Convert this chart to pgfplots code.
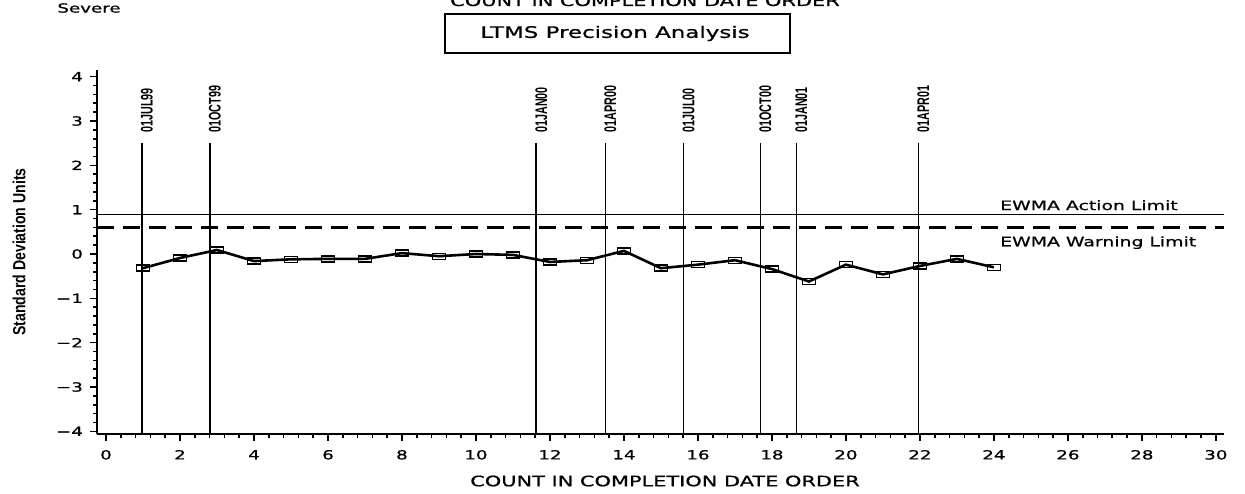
\documentclass[border=0pt]{standalone}
\usepackage{pgfplots}
\pgfplotsset{compat=1.18}
\usepackage{fontspec}
\setmainfont{DejaVu Sans}
\newfontfamily\wide[FakeStretch=1.45, FakeBold=0.8]{DejaVu Sans}
\newfontfamily\narrow[FakeStretch=0.64]{Liberation Sans Bold}
\newfontfamily\narrowb[FakeStretch=0.8]{Liberation Sans Bold}
\newcommand{\fs}[1]{\fontsize{#1}{#1}\selectfont}
\tikzset{datelab/.style={rotate=90, anchor=west, inner sep=0pt, font=\narrow\fs{8.4pt}}}
\begin{document}
\begin{tikzpicture}
\useasboundingbox (0,0) rectangle (622.5pt,246.5pt);
\begin{axis}[
  scale only axis, width=563.5pt, height=182pt,
  at={(48.5pt,29.5pt)}, anchor=south west,
  xmin=-0.243, xmax=30.22, ymin=-4.06, ymax=4.15,
  axis x line*=bottom, axis y line*=left,
  axis line style={-, line width=1pt},
  xtick={0,2,...,30},
  xticklabels={0,2,4,6,8,10,12,14,16,18,20,22,24,26,28,30},
  minor x tick num=4,
  ytick={-4,-3,...,4},
  yticklabels={−4,−3,−2,−1,0,1,2,3,4},
  minor y tick num=4,
  tick align=outside,
  major tick length=3.5pt, minor tick length=2pt,
  every tick/.style={black, line width=0.8pt},
  ticklabel style={font=\wide\fs{6.3pt}},
  xticklabel style={yshift=-1pt},
  clip=false,
]
% EWMA limits
\addplot [black, line width=0.75pt] coordinates {(-0.243,0.887) (30.22,0.887)};
\addplot [black, line width=1.5pt, dash pattern=on 8.5pt off 4.5pt] coordinates {(-0.243,0.594) (30.22,0.594)};
% date reference lines
\addplot [black, line width=0.8pt] coordinates {(0.97,2.51) (0.97,-4.06)};
\addplot [black, line width=0.8pt] coordinates {(2.81,2.51) (2.81,-4.06)};
\addplot [black, line width=0.8pt] coordinates {(11.63,2.51) (11.63,-4.06)};
\addplot [black, line width=0.8pt] coordinates {(13.50,2.51) (13.50,-4.06)};
\addplot [black, line width=0.8pt] coordinates {(15.61,2.51) (15.61,-4.06)};
\addplot [black, line width=0.8pt] coordinates {(17.69,2.51) (17.69,-4.06)};
\addplot [black, line width=0.8pt] coordinates {(18.66,2.51) (18.66,-4.06)};
\addplot [black, line width=0.8pt] coordinates {(21.96,2.51) (21.96,-4.06)};
% EWMA series
\addplot [black, line width=1.3pt, mark=square, mark size=1.5pt,
  mark options={solid, line width=0.7pt, xscale=2.2}] coordinates {
(1,-0.32) (2,-0.09) (3,0.09) (4,-0.16) (5,-0.12) (6,-0.11) (7,-0.11) (8,0.02)
(9,-0.05) (10,0.00) (11,-0.02) (12,-0.18) (13,-0.14) (14,0.07) (15,-0.32) (16,-0.24)
(17,-0.14) (18,-0.34) (19,-0.62) (20,-0.24) (21,-0.46) (22,-0.27) (23,-0.11) (24,-0.30)
};
% date labels
\node[datelab] at ([xshift=2.5pt]axis cs:0.97,2.73) {01JUL99};
\node[datelab] at ([xshift=2.5pt]axis cs:2.81,2.73) {01OCT99};
\node[datelab] at ([xshift=2.5pt]axis cs:11.63,2.73) {01JAN00};
\node[datelab] at ([xshift=2.5pt]axis cs:13.50,2.73) {01APR00};
\node[datelab] at ([xshift=2.5pt]axis cs:15.61,2.73) {01JUL00};
\node[datelab] at ([xshift=2.5pt]axis cs:17.69,2.73) {01OCT00};
\node[datelab] at ([xshift=2.5pt]axis cs:18.66,2.73) {01JAN01};
\node[datelab] at ([xshift=2.5pt]axis cs:21.96,2.73) {01APR01};
\node[anchor=west, inner sep=0pt, font=\wide\fs{6.5pt}] at (axis cs:24.16,1.10) {EWMA Action Limit};
\node[anchor=west, inner sep=0pt, font=\wide\fs{6.5pt}] at (axis cs:24.16,0.255) {EWMA Warning Limit};
\end{axis}
% titles
\node[anchor=base, inner sep=0pt, font=\wide\fs{7.2pt}] at (322.5pt,243.5pt) {COUNT IN COMPLETION DATE ORDER};
\draw[line width=1.2pt] (222.5pt,239.5pt) rectangle (395pt,220pt);
\node[inner sep=0pt, font=\wide\fs{7.9pt}] at (307.5pt,229.75pt) {LTMS Precision Analysis};
\node[anchor=west, inner sep=0pt, font=\wide\fs{6.3pt}] at (28.5pt,242.5pt) {Severe};
\node[rotate=90, inner sep=0pt, font=\narrowb\fs{8.8pt}] at (9.5pt,120.5pt) {Standard Deviation Units};
\node[inner sep=0pt, font=\wide\fs{7.2pt}] at (332.5pt,6pt) {COUNT IN COMPLETION DATE ORDER};
\end{tikzpicture}
\end{document}
